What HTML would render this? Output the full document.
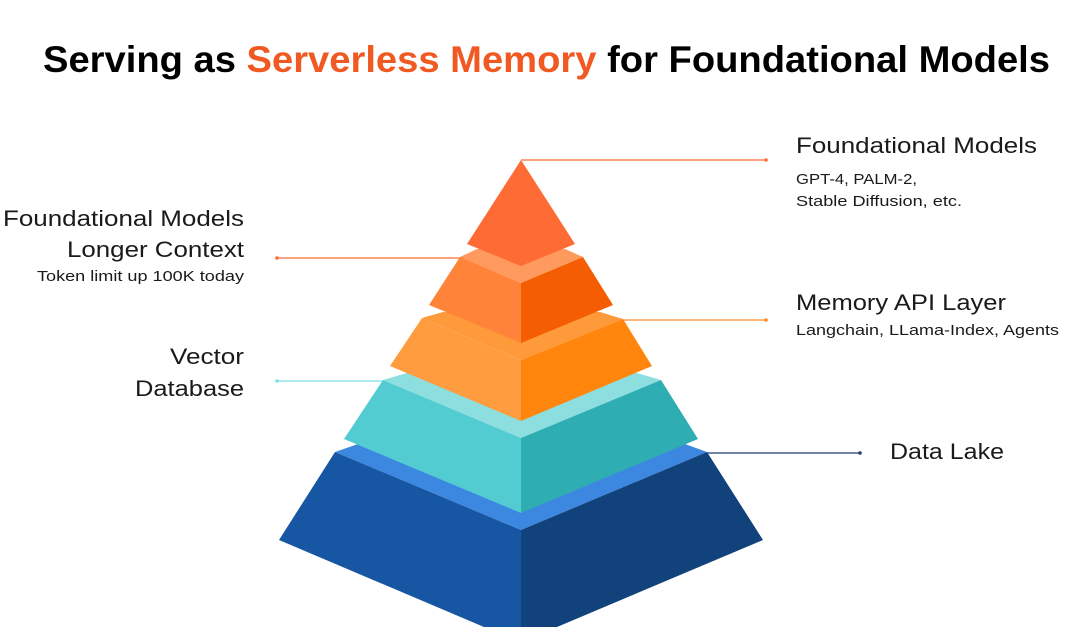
<!DOCTYPE html>
<html><head><meta charset="utf-8"><style>
html,body{margin:0;padding:0;background:#fff;width:1080px;height:627px;overflow:hidden}
svg{display:block}
text{font-family:"Liberation Sans",sans-serif;fill:#1a1a1a}
</style></head><body>
<svg width="1080" height="627" viewBox="0 0 1080 627" xmlns="http://www.w3.org/2000/svg">
<text x="43" y="72" font-size="37" font-weight="bold" textLength="1007" lengthAdjust="spacingAndGlyphs" fill="#000"><tspan fill="#000">Serving as </tspan><tspan fill="#F05A22">Serverless Memory</tspan><tspan fill="#000"> for Foundational Models</tspan></text>

<g stroke-width="1.3" fill="none">
<line x1="521" y1="160" x2="766" y2="160" stroke="#FF6B35"/>
<line x1="277" y1="258" x2="462" y2="258" stroke="#FF6B35"/>
<line x1="621" y1="320" x2="766" y2="320" stroke="#FF8A2A"/>
<line x1="277" y1="381" x2="385" y2="381" stroke="#7FE0E6"/>
<line x1="705" y1="453" x2="860" y2="453" stroke="#1F3F78"/>
</g>
<circle cx="766" cy="160" r="1.8" fill="#FF6B35"/>
<circle cx="277" cy="258" r="1.8" fill="#FF6B35"/>
<circle cx="766" cy="320" r="1.8" fill="#FF8A2A"/>
<circle cx="277" cy="381" r="1.8" fill="#7FE0E6"/>
<circle cx="860" cy="453" r="1.8" fill="#1F3F78"/>

<polygon points="335,452 358,444 685,444 707,452 521,530" fill="#3C88E0"/>
<polygon points="335,452 521,530 521,627 484,627 279,540" fill="#1756A2"/>
<polygon points="707,452 763,540 557,627 521,627 521,530" fill="#12427B"/>
<polygon points="383,380 407,373 637,373 661,380 521,438" fill="#8DDEDF"/>
<polygon points="383,380 521,438 521,513 344,439" fill="#52CCD0"/>
<polygon points="661,380 698,439 521,513 521,438" fill="#2EAEB3"/>
<polygon points="422,318 443,312 600,312 623,319 521,360" fill="#FF9A3A"/>
<polygon points="422,318 521,360 521,421 390,366" fill="#FF9C40"/>
<polygon points="623,319 652,366 521,421 521,360" fill="#FF850D"/>
<polygon points="460,257 477,249 565,249 583,257 521,283" fill="#FF9A5E"/>
<polygon points="460,257 521,283 521,343 429,305" fill="#FF8338"/>
<polygon points="583,257 613,305 521,343 521,283" fill="#F45D01"/>
<polygon points="521,160 575,244 521,266 467,244" fill="#FF6B35"/>

<text x="796" y="153" font-size="22" textLength="241" lengthAdjust="spacingAndGlyphs">Foundational Models</text>
<text x="796" y="184" font-size="15" textLength="121" lengthAdjust="spacingAndGlyphs">GPT-4, PALM-2,</text>
<text x="796" y="206" font-size="15" textLength="166" lengthAdjust="spacingAndGlyphs">Stable Diffusion, etc.</text>
<text x="796" y="310" font-size="22" textLength="210" lengthAdjust="spacingAndGlyphs">Memory API Layer</text>
<text x="796" y="335" font-size="15" textLength="263" lengthAdjust="spacingAndGlyphs">Langchain, LLama-Index, Agents</text>
<text x="890" y="459" font-size="22" textLength="114" lengthAdjust="spacingAndGlyphs">Data Lake</text>

<text x="244" y="226" font-size="22" text-anchor="end" textLength="241" lengthAdjust="spacingAndGlyphs">Foundational Models</text>
<text x="244" y="257" font-size="22" text-anchor="end" textLength="177" lengthAdjust="spacingAndGlyphs">Longer Context</text>
<text x="244" y="281" font-size="15" text-anchor="end" textLength="207" lengthAdjust="spacingAndGlyphs">Token limit up 100K today</text>
<text x="244" y="364" font-size="22" text-anchor="end" textLength="74" lengthAdjust="spacingAndGlyphs">Vector</text>
<text x="244" y="396" font-size="22" text-anchor="end" textLength="109" lengthAdjust="spacingAndGlyphs">Database</text>
</svg>
</body></html>
